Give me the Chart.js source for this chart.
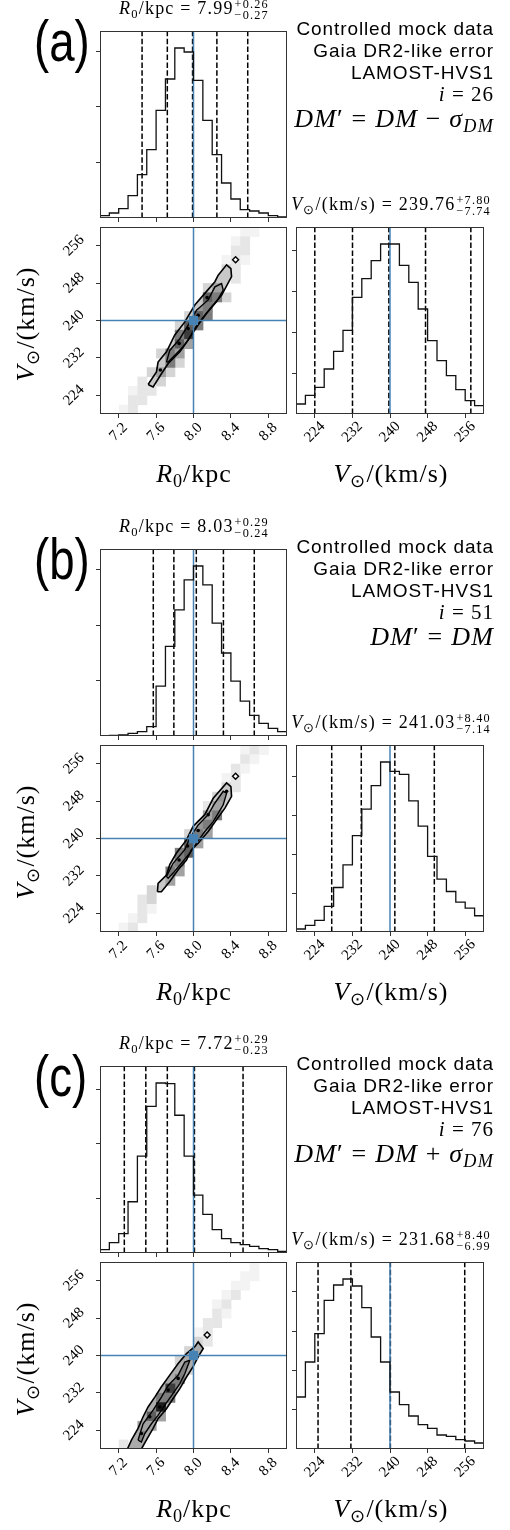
<!DOCTYPE html>
<html>
<head>
<meta charset="utf-8">
<script src="https://cdn.jsdelivr.net/npm/chart.js@4.4.0/dist/chart.umd.min.js"></script>
<style>
  body { margin: 0; background: #fff; }
  #page { position: relative; width: 510px; height: 1530px; overflow: hidden; }
  .panel { position: absolute; left: 0; width: 510px; height: 495px; }
  .panel canvas { position: absolute; left: 0; top: 0; }
  .t { position: absolute; white-space: nowrap; color: #000; }
  .m { font-family: "Liberation Serif", serif; }
  .s { font-family: "Liberation Sans", sans-serif; }
  sub { font-size: 0.7em; vertical-align: -0.3em; line-height: 0; }
  .ss { display: inline-block; vertical-align: -0.42em; font-size: 0.68em; line-height: 0.95; text-align: left; margin-left: 1px; }
  .ss span { display: block; }
</style>
</head>
<body>
<div id="page"></div>
<script>
// bin edges, ticks and truth values (shared by all three corner plots)
const r0Edges = [7.0, 7.1, 7.2, 7.3, 7.4, 7.5, 7.6, 7.7, 7.8, 7.9, 8.0, 8.1, 8.2, 8.3, 8.4, 8.5, 8.6, 8.7, 8.8, 8.9, 9.0];
const vEdges = [220, 222, 224, 226, 228, 230, 232, 234, 236, 238, 240, 242, 244, 246, 248, 250, 252, 254, 256, 258, 260];
const r0Ticks = [7.2, 7.6, 8.0, 8.4, 8.8];
const vTicks = [224, 232, 240, 248, 256];
const truthR0 = 8.0;
const truthV = 240;

// (a) i = 26, DM' = DM - sigma
const histR0A = [7, 15, 28, 67, 130, 205, 323, 417, 510, 498, 413, 293, 190, 105, 57, 25, 21, 15, 7, 3];
const histVA = [30, 56, 80, 135, 188, 251, 350, 406, 460, 510, 510, 446, 395, 315, 220, 160, 115, 73, 40, 25];
const quantR0A = [7.45, 7.72, 7.99, 8.25, 8.58];
const quantVA = [224.0, 232.02, 239.76, 247.56, 257.2];
const countTicksR0A = [167, 333, 500];
const countTicksVA = [122, 245, 367, 490];
const summaryR0A = [7.99, 0.26, 0.27];
const summaryVA = [239.76, 7.80, 7.74];
const gridA = [
  "00000000000000011000",
  "00000000000000120000",
  "00000000000000220000",
  "00000000000001210000",
  "00000000000003200000",
  "00000000000044200000",
  "00000000000354000000",
  "00000000000763000000",
  "00000000004640000000",
  "00000000037600000000",
  "00000000376000000000",
  "00000000684000000000",
  "00000004750000000000",
  "00000036500000000000",
  "00000046300000000000",
  "00000353000000000000",
  "00002430000000000000",
  "00012200000000000000",
  "00022000000000000000",
  "00120000000000000000"
];
const outerA = [[7.514, 226.3], [7.604, 229.0], [7.621, 231.1], [7.711, 233.3], [7.80, 236.9], [7.907, 239.7], [8.014, 243.3], [8.121, 245.8], [8.229, 248.3], [8.264, 249.7], [8.354, 251.9], [8.40, 251.1], [8.407, 249.4], [8.30, 245.4], [8.21, 243.3], [8.121, 241.1], [8.014, 238.3], [7.943, 235.8], [7.854, 233.3], [7.729, 230.8], [7.657, 228.6], [7.568, 225.8]];
const innerA = [[7.711, 231.1], [7.746, 233.6], [7.854, 236.1], [7.943, 239.0], [8.032, 242.2], [8.157, 244.4], [8.229, 247.2], [8.30, 247.9], [8.318, 246.5], [8.246, 244.0], [8.139, 241.5], [8.05, 239.0], [7.979, 236.9], [7.889, 234.4], [7.782, 232.2], [7.729, 231.1]];
const spotsA = [[8.146, 244.9], [8.05, 241.1], [7.943, 238.3], [7.846, 235.1], [7.646, 229.4]];
const islandsA = [[8.45, 253.0]];

// (b) i = 51, DM' = DM
const histR0B = [1, 2, 3, 8, 13, 28, 150, 270, 380, 470, 512, 455, 340, 250, 165, 105, 62, 38, 23, 13];
const histVB = [9, 20, 35, 77, 134, 202, 290, 370, 441, 512, 484, 475, 395, 319, 228, 159, 122, 90, 72, 49];
const quantR0B = [7.57, 7.79, 8.03, 8.32, 8.65];
const quantVB = [227.6, 233.89, 241.03, 249.43];
const countTicksR0B = [167, 333, 500];
const countTicksVB = [117, 234, 351, 468];
const summaryR0B = [8.03, 0.29, 0.24];
const summaryVB = [241.03, 8.40, 7.14];
const gridB = [
  "00000000000000012100",
  "00000000000000021000",
  "00000000000000210000",
  "00000000000001200000",
  "00000000000003200000",
  "00000000000034000000",
  "00000000000254000000",
  "00000000000560000000",
  "00000000004640000000",
  "00000000036500000000",
  "00000000075000000000",
  "00000000670000000000",
  "00000004640000000000",
  "00000006500000000000",
  "00000045000000000000",
  "00000340000000000000",
  "00002300000000000000",
  "00002100000000000000",
  "00012000000000000000",
  "00120000000000000000"
];
const outerB = [[7.614, 228.6], [7.621, 230.4], [7.711, 232.2], [7.746, 234.4], [7.818, 236.9], [7.925, 239.7], [7.996, 242.6], [8.121, 245.1], [8.211, 248.6], [8.354, 251.9], [8.40, 251.1], [8.407, 249.0], [8.336, 246.5], [8.246, 244.0], [8.157, 241.5], [8.05, 239.0], [7.979, 237.6], [7.925, 235.4], [7.836, 233.3], [7.746, 230.8], [7.657, 228.6]];
const innerB = [[7.711, 231.9], [7.782, 234.7], [7.907, 237.6], [7.961, 240.1], [8.05, 242.9], [8.157, 245.1], [8.229, 247.6], [8.318, 250.1], [8.354, 249.7], [8.318, 247.2], [8.211, 243.6], [8.121, 241.5], [8.032, 239.0], [7.961, 236.9], [7.871, 234.7], [7.782, 232.6], [7.729, 231.5]];
const spotsB = [[8.354, 250.1], [8.157, 245.1], [8.05, 241.7], [7.936, 238.4], [7.846, 235.4]];
const islandsB = [[8.45, 253.3]];

// (c) i = 76, DM' = DM + sigma
const histR0C = [10, 31, 58, 154, 291, 441, 511, 509, 414, 291, 174, 116, 70, 43, 31, 25, 20, 13, 10, 5];
const histVC = [156, 261, 346, 446, 492, 510, 489, 424, 336, 261, 171, 133, 99, 73, 62, 42, 38, 28, 24, 18];
const quantR0C = [7.26, 7.49, 7.72, 8.01, 8.53];
const quantVC = [224.69, 231.68, 240.08, 255.9];
const countTicksR0C = [164, 328, 492];
const countTicksVC = [118, 236, 354, 472];
const summaryR0C = [7.72, 0.29, 0.23];
const summaryVC = [231.68, 8.40, 6.99];
const gridC = [
  "00000000000000001000",
  "00000000000000011000",
  "00000000000000110000",
  "00000000000001200000",
  "00000000000012000000",
  "00000000000021000000",
  "00000000000220000000",
  "00000000001200000000",
  "00000000003200000000",
  "00000000034000000000",
  "00000000340000000000",
  "00000000430000000000",
  "00000004600000000000",
  "00000048000000000000",
  "00000066000000000000",
  "00000490000000000000",
  "00004750000000000000",
  "00005500000000000000",
  "00044000000000000000",
  "00240000000000000000"
];
const outerC = [[7.293, 220.0], [7.336, 221.9], [7.407, 224.4], [7.461, 226.9], [7.514, 229.0], [7.586, 231.1], [7.657, 233.3], [7.746, 235.8], [7.836, 238.3], [7.925, 240.4], [8.014, 241.9], [8.05, 242.9], [8.104, 241.5], [8.05, 239.7], [7.996, 237.6], [7.925, 235.4], [7.854, 232.9], [7.782, 230.8], [7.711, 228.6], [7.621, 226.5], [7.568, 224.4], [7.496, 221.9], [7.443, 220.0]];
const innerC = [[7.407, 221.9], [7.461, 225.4], [7.568, 228.3], [7.657, 231.1], [7.729, 233.6], [7.836, 235.8], [7.907, 238.6], [7.961, 239.0], [7.907, 236.1], [7.854, 234.0], [7.782, 231.9], [7.693, 229.4], [7.621, 227.2], [7.55, 225.4], [7.479, 223.3], [7.443, 221.5]];
const spotsC = [[7.443, 223.3], [7.532, 226.9], [7.639, 229.0], [7.729, 232.6], [7.836, 235.1]];
const islandsC = [[8.146, 244.4]];

const panelTags = ["(a)", "(b)", "(c)"];
const stepIndex = [26, 51, 76];
const dmShift = ["−", "", "+"];

// ---------------------------------------------------------------
const W = 510, H = 495;
const panelTop = [0, 518, 1035];
const boxR0 = [100, 31, 287, 218];
const box2D = [100, 227, 287, 414];
const boxV = [296, 227, 484, 414];
const TICK = 4;
const grey = ["#ffffff", "#f3f3f3", "#e6e6e6", "#d5d5d5", "#c6c6c6", "#a2a2a2", "#7c7c7c", "#5e5e5e", "#3c3c3c", "#1e1e1e"];

const frame = {
  id: "frame",
  afterDraw(chart) {
    const { ctx, chartArea: ca } = chart;
    ctx.save();
    ctx.strokeStyle = "#333";
    ctx.lineWidth = 1;
    ctx.strokeRect(ca.left + 0.5, ca.top + 0.5, ca.width - 1, ca.height - 1);
    ctx.restore();
  }
};

function fmtTick(v) {
  return v < 100 ? v.toFixed(1) : String(v);
}

// rotated tick labels, placed from the chart's own scales
function tickLabels(showX, showY) {
  return {
    id: "tickLabels",
    afterDraw(chart) {
      const { ctx, chartArea: ca } = chart;
      ctx.save();
      ctx.font = '15px "Liberation Serif"';
      ctx.fillStyle = "#000";
      ctx.textAlign = "center";
      ctx.textBaseline = "middle";
      if (showX) {
        const s = chart.scales.x;
        s.ticks.forEach(t => {
          ctx.save();
          ctx.translate(s.getPixelForValue(t.value), ca.bottom + 18);
          ctx.rotate(-Math.PI / 4);
          ctx.fillText(fmtTick(t.value), 0, 0);
          ctx.restore();
        });
      }
      if (showY) {
        const s = chart.scales.y;
        s.ticks.forEach(t => {
          ctx.save();
          ctx.translate(ca.left - 26, s.getPixelForValue(t.value));
          ctx.rotate(-Math.PI / 4);
          ctx.fillText(fmtTick(t.value), 0, 0);
          ctx.restore();
        });
      }
      ctx.restore();
    }
  };
}

// 2d histogram cells + filled contour levels
function density(grid, outer, inner, fills) {
  return {
    id: "density",
    beforeDatasetsDraw(chart) {
      const { ctx, chartArea: ca, scales: { x, y } } = chart;
      const n = vEdges.length - 1;
      const cells = (test) => {
        grid.forEach((row, j) => {
          [...row].forEach((ch, i) => {
            const lvl = +ch;
            if (!lvl || !test(lvl)) return;
            const x0 = x.getPixelForValue(r0Edges[i]);
            const x1 = x.getPixelForValue(r0Edges[i + 1]);
            const y0 = y.getPixelForValue(vEdges[n - j]);
            const y1 = y.getPixelForValue(vEdges[n - j - 1]);
            ctx.fillStyle = grey[lvl];
            ctx.fillRect(x0, y0, x1 - x0 + 0.5, y1 - y0 + 0.5);
          });
        });
      };
      const poly = (pts, color) => {
        ctx.beginPath();
        pts.forEach((p, k) => {
          const px = x.getPixelForValue(p[0]), py = y.getPixelForValue(p[1]);
          k ? ctx.lineTo(px, py) : ctx.moveTo(px, py);
        });
        ctx.closePath();
        ctx.fillStyle = color;
        ctx.fill();
      };
      ctx.save();
      ctx.beginPath();
      ctx.rect(ca.left, ca.top, ca.width, ca.height);
      ctx.clip();
      cells(l => l < 4);
      poly(outer, fills[0]);
      poly(inner, fills[1]);
      cells(l => l >= 5);
      ctx.restore();
    }
  };
}

function scaleOpts(min, max, ticks, size, horizontal) {
  return {
    type: "linear",
    position: horizontal ? "bottom" : "left",
    min, max,
    afterBuildTicks: s => { s.ticks = ticks.map(v => ({ value: v })); },
    afterFit: s => { if (horizontal) s.height = size; else s.width = size; },
    ticks: { display: false },
    grid: { drawOnChartArea: false, drawTicks: true, tickLength: TICK, color: "#333" },
    border: { display: false }
  };
}

function baseOptions(box, xs, ys) {
  return {
    responsive: false,
    animation: false,
    events: [],
    layout: { padding: { left: box[0] - TICK, top: box[1], right: W - box[2], bottom: H - box[3] - TICK } },
    plugins: { legend: { display: false }, tooltip: { enabled: false } },
    scales: { x: xs, y: ys }
  };
}

function addCanvas(panel) {
  const c = document.createElement("canvas");
  c.width = W; c.height = H;
  c.style.width = W + "px"; c.style.height = H + "px";
  panel.appendChild(c);
  return c;
}

function lineSet(pts, color, width, dash) {
  return { data: pts, showLine: true, borderColor: color, borderWidth: width, borderDash: dash || [], pointRadius: 0, fill: false };
}

function histChart(panel, box, edges, counts, quants, truth, xTicks, yTicks, xr, labelX) {
  const ymax = 1.1 * Math.max(...counts);
  const pts = [{ x: edges[0], y: 0 }];
  counts.forEach((c, i) => pts.push({ x: edges[i], y: c }));
  pts.push({ x: edges[edges.length - 1], y: counts[counts.length - 1] });
  pts.push({ x: edges[edges.length - 1], y: 0 });
  const step = lineSet(pts, "#111", 1.3);
  step.stepped = true;
  const datasets = [step, lineSet([{ x: truth, y: 0 }, { x: truth, y: ymax }], "#4682b4", 1.5)];
  quants.forEach(q => datasets.push(lineSet([{ x: q, y: 0 }, { x: q, y: ymax }], "#000", 1.5, [5.5, 2.4])));
  new Chart(addCanvas(panel), {
    type: "scatter",
    data: { datasets },
    options: baseOptions(box, scaleOpts(xr[0], xr[1], xTicks, TICK, true), scaleOpts(0, ymax, yTicks, TICK, false)),
    plugins: [frame, tickLabels(labelX, false)]
  });
}

function jointChart(panel, grid, outer, inner, spots, islands, fills) {
  const close = p => p.concat([p[0]]).map(q => ({ x: q[0], y: q[1] }));
  const datasets = [
    { data: [{ x: truthR0, y: truthV }], pointStyle: "rect", pointRadius: 6.5, backgroundColor: "#4682b4", borderWidth: 0 },
    lineSet([{ x: 7.0, y: truthV }, { x: 9.0, y: truthV }], "#4682b4", 1.5),
    lineSet([{ x: truthR0, y: 220 }, { x: truthR0, y: 260 }], "#4682b4", 1.5),
    { data: spots.map(q => ({ x: q[0], y: q[1] })), pointRadius: 1.8, backgroundColor: "#000", borderWidth: 0 },
    { data: islands.map(q => ({ x: q[0], y: q[1] })), pointStyle: "rectRot", pointRadius: 3, backgroundColor: "#fff", borderColor: "#000", borderWidth: 1.4 },
    lineSet(close(inner), "#000", 1.4),
    lineSet(close(outer), "#000", 1.6)
  ];
  new Chart(addCanvas(panel), {
    type: "scatter",
    data: { datasets },
    options: baseOptions(box2D, scaleOpts(7.0, 9.0, r0Ticks, TICK, true), scaleOpts(220, 260, vTicks, TICK, false)),
    plugins: [density(grid, outer, inner, fills), frame, tickLabels(true, true)]
  });
}

function text(panel, html, css, cls) {
  const d = document.createElement("div");
  d.className = "t " + cls;
  d.innerHTML = html;
  Object.assign(d.style, css);
  panel.appendChild(d);
}

function scripts(up, dn) {
  return '<span class="ss"><span>+' + up.toFixed(2) + "</span><span>−" + dn.toFixed(2) + "</span></span>";
}

const page = document.getElementById("page");
const panels = [
  [histR0A, histVA, quantR0A, quantVA, countTicksR0A, countTicksVA, summaryR0A, summaryVA, gridA, outerA, innerA, spotsA, islandsA, ["#c8c8c8", "#969696"]],
  [histR0B, histVB, quantR0B, quantVB, countTicksR0B, countTicksVB, summaryR0B, summaryVB, gridB, outerB, innerB, spotsB, islandsB, ["#c8c8c8", "#969696"]],
  [histR0C, histVC, quantR0C, quantVC, countTicksR0C, countTicksVC, summaryR0C, summaryVC, gridC, outerC, innerC, spotsC, islandsC, ["#ababab", "#808080"]]
];

panels.forEach((p, k) => {
  const [hR0, hV, qR0, qV, tR0, tV, sR0, sV, grid, outer, inner, spots, islands, fills] = p;
  const panel = document.createElement("div");
  panel.className = "panel";
  panel.style.top = panelTop[k] + "px";
  page.appendChild(panel);

  histChart(panel, boxR0, r0Edges, hR0, qR0, truthR0, r0Ticks, tR0, [7.0, 9.0], false);
  jointChart(panel, grid, outer, inner, spots, islands, fills);
  histChart(panel, boxV, vEdges, hV, qV, truthV, vTicks, tV, [220, 260], true);

  // titles over the diagonal panels
  text(panel, "<i>R</i><sub>0</sub>/kpc = " + sR0[0].toFixed(2) + scripts(sR0[1], sR0[2]),
    { left: "44px", width: "300px", top: "-2px", textAlign: "center", fontSize: "18px", letterSpacing: "1.2px" }, "m");
  text(panel, "<i>V</i><sub>⊙</sub>/(km/s) = " + sV[0].toFixed(2) + scripts(sV[1], sV[2]),
    { left: "241px", width: "300px", top: "194px", textAlign: "center", fontSize: "18px", letterSpacing: "1.2px" }, "m");

  // axis labels
  text(panel, "<i>R</i><sub>0</sub>/kpc", { left: "94px", width: "200px", top: "459px", textAlign: "center", fontSize: "26px", letterSpacing: "1px" }, "m");
  text(panel, "<i>V</i><sub>⊙</sub>/(km/s)", { left: "291px", width: "200px", top: "459px", textAlign: "center", fontSize: "26px", letterSpacing: "1px" }, "m");
  text(panel, "<i>V</i><sub>⊙</sub>/(km/s)", { left: "-74px", width: "200px", top: "309px", textAlign: "center", fontSize: "26px", letterSpacing: "1px", transform: "rotate(-90deg)" }, "m");

  // panel tag and annotation block
  text(panel, panelTags[k], { left: "34px", top: "13px", fontSize: "57px", lineHeight: "1", transform: "scaleX(0.8)", transformOrigin: "left top" }, "s");
  const lines = [
    ["Controlled mock data", "s", 19, 19, 0.9],
    ["Gaia DR2-like error", "s", 19, 41, 0.9],
    ["LAMOST-HVS1", "s", 19, 63, 0.9],
    ["<i>i</i> = " + stepIndex[k], "m", 21, 83, 1],
    ["<i>DM</i>′ = <i>DM</i>" + (dmShift[k] ? " " + dmShift[k] + " <i>σ</i><sub><i>DM</i></sub>" : ""), "m", 26, 105, 1.2]
  ];
  lines.forEach(l => text(panel, l[0], { right: "16px", top: l[3] + "px", fontSize: l[2] + "px", lineHeight: "1.1", letterSpacing: l[4] + "px" }, l[1]));
});
</script>
</body>
</html>
